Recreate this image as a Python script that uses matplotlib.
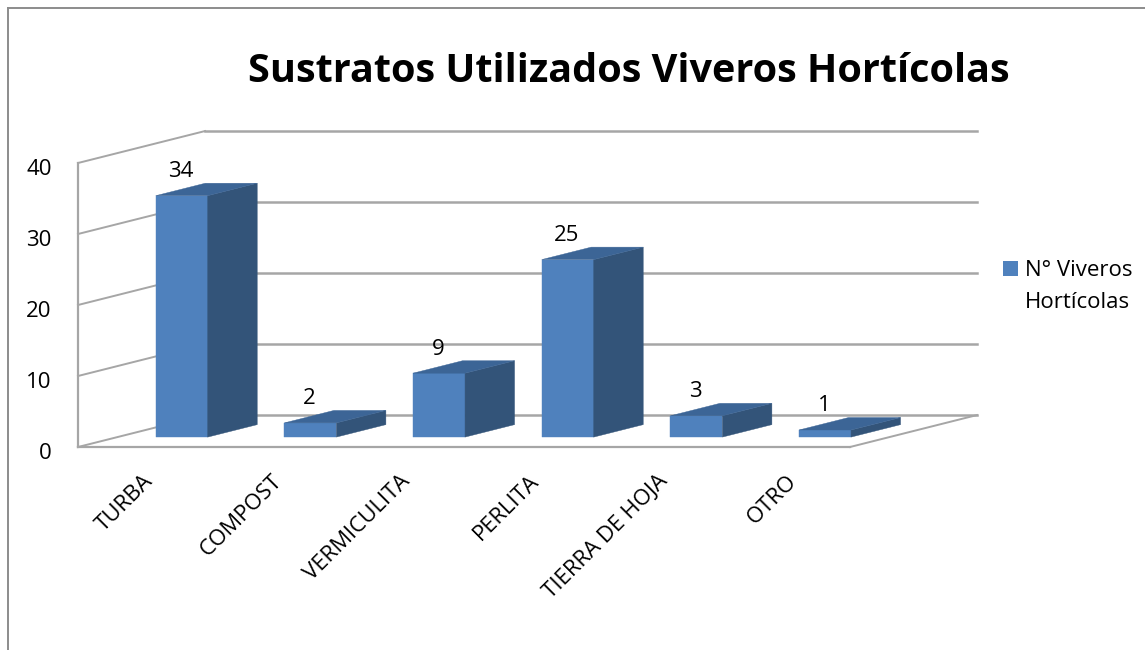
import matplotlib
matplotlib.use("Agg")
import matplotlib.pyplot as plt
from matplotlib.lines import Line2D
from matplotlib.patches import Polygon, Rectangle
from matplotlib.transforms import ScaledTranslation

categorias = ["TURBA", "COMPOST", "VERMICULITA", "PERLITA", "TIERRA DE HOJA", "OTRO"]
viveros = [34, 2, 9, 25, 3, 1]
ticks_y = [0, 10, 20, 30, 40]

W, H = 1145, 650
# profundidad del falso 3D, en unidades de los ejes
prof_x = 0.987
prof_y = 4.5
ancho_barra = 0.404
ini_barra = 0.31
fin_barra = 0.70

AZUL = "#4f81bd"
AZUL_TECHO = "#3c6596"
AZUL_LADO = "#335479"
GRIS = "#a6a6a6"

plt.rcParams["font.family"] = ["Open Sans", "DejaVu Sans"]

fig = plt.figure(figsize=(W / 100, H / 100), dpi=100)
fig.patch.set_facecolor("white")

# marco del grafico, cortado abajo y a la derecha
fig.add_artist(Line2D([8 / W, 8 / W], [0, 1 - 8 / H], color="#8c8c8c", lw=1.4))
fig.add_artist(Line2D([8 / W, 1], [1 - 8 / H, 1 - 8 / H], color="#8c8c8c", lw=1.4))

ax = fig.add_axes([78 / W, 1 - 447 / H, 772 / W, 284 / H])
ax.set_xlim(0, len(categorias))
ax.set_ylim(0, 40)
ax.patch.set_visible(False)
for lado in ["top", "right"]:
    ax.spines[lado].set_visible(False)
for lado in ["left", "bottom"]:
    ax.spines[lado].set_color(GRIS)
    ax.spines[lado].set_linewidth(1.6)

ax.set_yticks(ticks_y)
ax.set_xticks([i + 0.5 for i in range(len(categorias))])
ax.set_xticklabels(
    categorias, rotation=45, ha="right", va="top", rotation_mode="anchor", fontsize=16
)
ax.tick_params(axis="y", length=0, pad=19, labelsize=16)
ax.tick_params(axis="x", length=0, pad=17)

# los numeros del eje y van un poco mas abajo en el original
baja = ScaledTranslation(0, -3 / 72, fig.dpi_scale_trans)
for etiqueta in ax.get_yticklabels():
    etiqueta.set_transform(etiqueta.get_transform() + baja)

# paredes: lineas de division y suelo
n = len(categorias)
for t in ticks_y:
    ax.plot([0, prof_x], [t, t + prof_y], color=GRIS, lw=1.4, clip_on=False, zorder=1)
    ax.plot([prof_x, n + prof_x], [t + prof_y, t + prof_y], color=GRIS, lw=1.8,
            clip_on=False, zorder=1)
ax.plot([n, n + prof_x], [0, prof_y], color=GRIS, lw=1.4, clip_on=False, zorder=1)

# barras con caras frontal, lateral y superior
for i, v in enumerate(viveros):
    x0 = i + 0.5 - ancho_barra / 2 + ini_barra * prof_x
    x1 = x0 + ancho_barra
    y0 = ini_barra * prof_y
    dx = (fin_barra - ini_barra) * prof_x
    dy = (fin_barra - ini_barra) * prof_y
    ax.add_patch(Rectangle((x0, y0), ancho_barra, v, fc=AZUL, ec=AZUL, lw=0.3, clip_on=False, zorder=3))
    ax.add_patch(Polygon([(x1, y0), (x1 + dx, y0 + dy), (x1 + dx, y0 + dy + v), (x1, y0 + v)],
                         fc=AZUL_LADO, ec=AZUL_LADO, lw=0.3, clip_on=False, zorder=3))
    ax.add_patch(Polygon([(x0, y0 + v), (x1, y0 + v), (x1 + dx, y0 + dy + v), (x0 + dx, y0 + dy + v)],
                         fc=AZUL_TECHO, ec=AZUL_TECHO, lw=0.3, clip_on=False, zorder=3))
    ax.text(x0 + ancho_barra / 2 - 0.005, y0 + v + dy + 0.15, str(v), ha="center", va="bottom",
            fontsize=16, color="black", zorder=4)

# titulo y leyenda
fig.text(629 / W, 1 - 72 / H, "Sustratos Utilizados Viveros Hortícolas", ha="center", va="center",
         fontsize=28.5, fontweight="bold", color="black")
fig.patches.append(Rectangle((1003 / W, 1 - 276 / H), 15 / W, 15 / H, fc=AZUL, ec="none",
                             transform=fig.transFigure))
fig.text(1025 / W, 1 - 270 / H, "N° Viveros", ha="left", va="center", fontsize=16)
fig.text(1025 / W, 1 - 303 / H, "Hortícolas", ha="left", va="center", fontsize=16)

fig.savefig("out.png", dpi=100)
